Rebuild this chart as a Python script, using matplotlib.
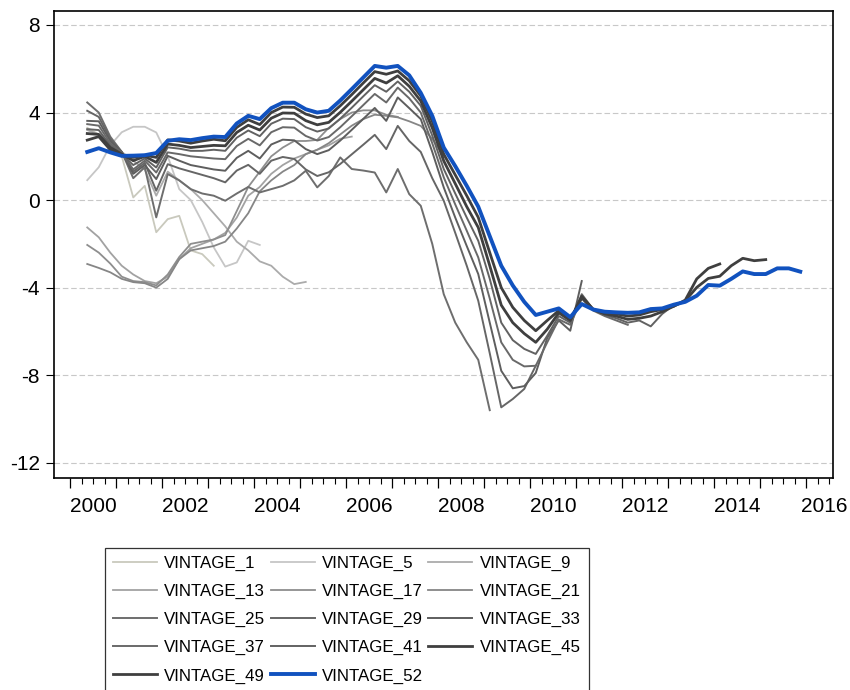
import matplotlib
matplotlib.use("Agg")
import matplotlib.pyplot as plt
import numpy as np
import pandas as pd
from matplotlib.ticker import FixedLocator, NullFormatter

# ---------------- data (quarterly, all vintages start 2000Q2) ----------------
start_quarter = "2000Q2"

vintage_1 = [3.3, 3.0, 2.5, 2.0, 0.12, 0.65, -1.47, -0.87, -0.72, -2.3, -2.47, -3.0]
vintage_5 = [0.91, 1.5, 2.5, 3.1, 3.35, 3.35, 3.09, 2.0, 0.5, 0.0, -1.0, -2.16, -3.04, -2.85, -1.86, -2.05]
vintage_9 = [3.2, 3.0, 2.6, 2.2, 1.8, 1.4, 0.2, 1.3, 0.9, 0.5, 0.0, -0.6, -1.2, -1.9, -2.3, -2.8, -3.0, -3.5,
             -3.84, -3.74]
vintage_13 = [-1.25, -1.7, -2.4, -3.0, -3.4, -3.7, -3.8, -3.5, -2.7, -2.2, -2.0, -1.8, -1.5, -0.8, 0.2, 0.6,
              1.2, 1.6, 1.9, 2.1, 2.3, 2.5, 2.8, 2.9]
vintage_17 = [-2.05, -2.4, -2.9, -3.5, -3.7, -3.75, -3.9, -3.4, -2.6, -2.0, -1.9, -1.8, -1.6, -0.5, 0.6, 1.3,
              2.0, 2.4, 2.7, 2.7, 2.75, 3.3, 3.7, 4.0, 4.1, 4.1, 3.9, 3.8]
vintage_21 = [-2.92, -3.1, -3.3, -3.6, -3.75, -3.8, -4.0, -3.6, -2.7, -2.3, -2.2, -2.1, -1.9, -1.3, -0.6, 0.4,
              0.9, 1.3, 1.6, 2.1, 2.3, 2.6, 3.0, 3.4, 3.7, 3.9, 3.85, 3.78, 3.6, 3.39, 2.8, 2.0]
vintage_25 = [4.46, 4.0, 2.9, 2.2, 1.0, 1.5, -0.79, 1.19, 0.9, 0.5, 0.3, 0.2, -0.03, 0.3, 0.6, 0.35,
              0.5, 0.65, 0.9, 1.34, 0.58, 1.1, 1.95, 1.42, 1.35, 1.26, 0.35, 1.42, 0.27, -0.26, -2.0, -4.3,
              -5.6, -6.5, -7.3, -9.6]
vintage_29 = [4.08, 3.8, 2.8, 2.2, 1.3, 1.7, 0.43, 1.64, 1.45, 1.3, 1.15, 1.0, 0.81, 1.35, 1.61, 1.20,
              1.80, 1.97, 1.88, 1.40, 1.10, 1.27, 1.65, 2.09, 2.53, 2.98, 2.33, 3.39, 2.7, 2.2, 1.0, -0.03,
              -1.5, -3.0, -4.6, -7.0, -9.47, -9.09, -8.63, -7.57]
vintage_33 = [3.62, 3.6, 2.7, 2.2, 1.2, 1.6, 0.96, 2.02, 1.8, 1.6, 1.5, 1.4, 1.34, 1.93, 2.25, 1.90,
              2.54, 2.76, 2.73, 2.33, 2.10, 2.28, 2.72, 3.21, 3.71, 4.21, 3.62, 4.69, 4.2, 3.7, 2.2, 0.58,
              -0.8, -2.1, -3.38, -5.6, -7.8, -8.6, -8.5, -7.9, -6.3, -5.5, -5.97, -3.7]
vintage_37 = [3.47, 3.4, 2.6, 2.15, 1.4, 1.8, 1.26, 2.18, 2.1, 2.0, 1.95, 1.9, 1.87, 2.47, 2.80, 2.50,
              3.10, 3.33, 3.31, 2.93, 2.72, 2.88, 3.33, 3.83, 4.34, 4.85, 4.46, 5.14, 4.65, 4.0, 2.6, 1.04,
              -0.2, -1.4, -2.62, -4.5, -6.5, -7.3, -7.6, -7.57, -6.5, -5.45, -5.7, -4.5, -5.05, -5.3, -5.5,
              -5.7]
vintage_41 = [3.24, 3.2, 2.5, 2.1, 1.6, 1.9, 1.49, 2.41, 2.35, 2.25, 2.25, 2.3, 2.25, 2.85, 3.18, 2.92,
              3.49, 3.72, 3.70, 3.33, 3.13, 3.27, 3.72, 4.22, 4.74, 5.25, 4.95, 5.42, 4.95, 4.31, 2.95, 1.42,
              0.3, -0.8, -1.86, -3.6, -5.6, -6.4, -6.8, -7.03, -6.2, -5.3, -5.6, -4.3, -5.0, -5.25, -5.4,
              -5.6, -5.5, -5.77, -5.2, -4.8]
vintage_45 = [3.04, 3.0, 2.4, 2.1, 1.8, 2.0, 1.72, 2.56, 2.5, 2.4, 2.45, 2.5, 2.48, 3.09, 3.42, 3.20,
              3.74, 3.98, 3.97, 3.63, 3.44, 3.55, 4.01, 4.52, 5.04, 5.56, 5.35, 5.68, 5.2, 4.53, 3.3, 1.79,
              0.75, -0.3, -1.25, -3.0, -4.8, -5.6, -6.1, -6.5, -5.9, -5.15, -5.5, -4.4, -5.0, -5.2, -5.3,
              -5.45, -5.4, -5.3, -5.1, -4.85, -4.57, -3.6, -3.12, -2.92]
vintage_49 = [2.74, 2.9, 2.3, 2.05, 1.95, 2.05, 1.95, 2.75, 2.7, 2.6, 2.7, 2.78, 2.71, 3.32, 3.67, 3.45,
              4.0, 4.25, 4.24, 3.93, 3.77, 3.85, 4.31, 4.82, 5.35, 5.87, 5.75, 5.90, 5.45, 4.76, 3.6, 2.1,
              1.15, 0.2, -0.79, -2.4, -4.0, -4.9, -5.5, -5.97, -5.5, -5.05, -5.45, -4.45, -5.0, -5.15, -5.2,
              -5.3, -5.25, -5.1, -5.0, -4.85, -4.6, -3.99, -3.58, -3.48, -3.0, -2.66, -2.77, -2.72]
vintage_52 = [2.20, 2.37, 2.18, 2.02, 2.03, 2.05, 2.15, 2.71, 2.78, 2.74, 2.83, 2.90, 2.88, 3.50, 3.85, 3.70,
              4.20, 4.45, 4.45, 4.15, 4.00, 4.08, 4.55, 5.07, 5.60, 6.13, 6.05, 6.13, 5.70, 4.90, 3.85, 2.40,
              1.55, 0.65, -0.30, -1.65, -3.00, -3.90, -4.65, -5.25, -5.10, -4.95, -5.35, -4.75, -5.00, -5.10,
              -5.13, -5.15, -5.13, -4.98, -4.95, -4.78, -4.65, -4.37, -3.88, -3.91, -3.60, -3.26, -3.38,
              -3.38, -3.12, -3.12, -3.27]

series_names = ["VINTAGE_1", "VINTAGE_5", "VINTAGE_9", "VINTAGE_13", "VINTAGE_17", "VINTAGE_21",
                "VINTAGE_25", "VINTAGE_29", "VINTAGE_33", "VINTAGE_37", "VINTAGE_41", "VINTAGE_45",
                "VINTAGE_49", "VINTAGE_52"]
series_values = [vintage_1, vintage_5, vintage_9, vintage_13, vintage_17, vintage_21, vintage_25,
                 vintage_29, vintage_33, vintage_37, vintage_41, vintage_45, vintage_49, vintage_52]

y_ticks = [-12, -8, -4, 0, 4, 8]
x_label_years = [2000, 2002, 2004, 2006, 2008, 2010, 2012, 2014, 2016]

# ---------------- style ----------------
colors = ["#c9c9bd", "#c6c6c6", "#ababab", "#a2a2a2", "#8e8e8e", "#868686", "#6e6e6e",
          "#666666", "#5e5e5e", "#696969", "#626262", "#3f3f3f", "#3f3f3f", "#1152bf"]
widths = [1.3, 1.3, 1.3, 1.3, 1.3, 1.3, 1.4, 1.4, 1.4, 1.4, 1.4, 2.0, 2.0, 2.8]

plt.rcParams["font.family"] = ["Liberation Sans", "DejaVu Sans"]

W, H = 850, 690
fig = plt.figure(figsize=(W / 100, H / 100), dpi=100)
ax_l, ax_r, ax_t, ax_b = 54, 833, 11, 478
ax = fig.add_axes([ax_l / W, 1 - ax_b / H, (ax_r - ax_l) / W, (ax_b - ax_t) / H])

px_per_year = 46.0
x0 = 2000 - (70 - ax_l) / px_per_year
x1 = 2000 + (ax_r - 70) / px_per_year
ppu = (462.7 - 25.0) / 20.0
y_top = 8 + (25.0 - ax_t) / ppu
y_bot = -12 - (ax_b - 462.7) / ppu

handles = {}
for name, vals, c, lw in zip(series_names, series_values, colors, widths):
    per = pd.period_range(start_quarter, periods=len(vals), freq="Q")
    xs = per.year + (per.quarter - 0.5) / 4.0
    h, = ax.plot(xs, vals, color=c, lw=lw, label=name, zorder=2)
    handles[name] = h

ax.set_xlim(x0, x1)
ax.set_ylim(y_bot, y_top)

# grid
for yv in y_ticks:
    ax.axhline(yv, color="#c8c8c8", lw=0.8, dashes=(5, 2.5), zorder=1)

# y axis
ax.set_yticks(y_ticks)
ax.set_yticklabels([str(v) for v in y_ticks])
ax.tick_params(axis="y", direction="out", length=6, width=0.8, pad=4, labelsize=15)

# x axis: major ticks at years, minor ticks at quarters
years = np.arange(2000, 2017)
ax.xaxis.set_major_locator(FixedLocator(years))
ax.xaxis.set_major_formatter(NullFormatter())
minor_pos = [yv + q for yv in years for q in (0.25, 0.5, 0.75) if yv + q < x1]
ax.xaxis.set_minor_locator(FixedLocator(minor_pos))
ax.xaxis.set_minor_formatter(NullFormatter())
ax.tick_params(axis="x", which="major", direction="out", length=7.5, width=0.9)
ax.tick_params(axis="x", which="minor", direction="out", length=4, width=0.8)

# year labels centred inside each labelled year (last one nudged so it stays on the canvas)
label_pos = [yv + 0.5 for yv in x_label_years]
label_pos[-1] = x_label_years[-1] + 0.40
sec = ax.secondary_xaxis("bottom")
sec.set_xticks(label_pos)
sec.set_xticklabels([str(yv) for yv in x_label_years])
sec.tick_params(axis="x", length=0, pad=13.5, labelsize=15)
sec.spines["bottom"].set_visible(False)

for sp in ax.spines.values():
    sp.set_linewidth(1.2)
    sp.set_color("black")

# legend filled row by row (3 columns)
legend_order = ["VINTAGE_1", "VINTAGE_13", "VINTAGE_25", "VINTAGE_37", "VINTAGE_49",
                "VINTAGE_5", "VINTAGE_17", "VINTAGE_29", "VINTAGE_41", "VINTAGE_52",
                "VINTAGE_9", "VINTAGE_21", "VINTAGE_33", "VINTAGE_45"]
leg = fig.legend(handles=[handles[n] for n in legend_order], loc="upper left",
                 bbox_to_anchor=(105 / W, 1 - 548 / H),
                 ncol=3, frameon=True, fancybox=False, shadow=False, borderaxespad=0,
                 prop={"size": 12.2},
                 handlelength=2.6, handletextpad=0.45, columnspacing=0.3, labelspacing=0.77,
                 borderpad=0.45)
leg.get_frame().set_edgecolor("black")
leg.get_frame().set_linewidth(0.9)

fig.savefig("out.png", dpi=100)
